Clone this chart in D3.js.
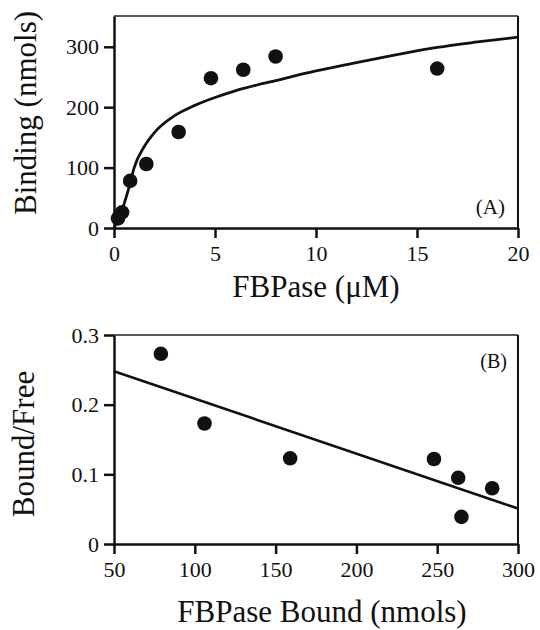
<!DOCTYPE html>
<html>
<head>
<meta charset="utf-8">
<script src="https://cdn.jsdelivr.net/npm/d3@7"></script>
<style>
  body { margin: 0; background: #fff; }
  text { font-family: "Liberation Serif", "Times New Roman", serif; fill: #111; }
</style>
</head>
<body>
<div id="chart"></div>
<script>
// panel A: binding vs FBPase concentration
var concA = [0.2, 0.4, 0.8, 1.6, 3.2, 4.8, 6.4, 8, 16];
var bindA = [16, 26, 78, 106, 159, 248, 262, 284, 264];
// fitted curve
var curveX = [0, 0.25, 0.5, 0.75, 1, 1.5, 2, 3, 4, 5, 6, 7, 8, 10, 12, 14, 16, 18, 20];
var curveY = [0, 18, 40, 68, 100, 135, 158, 186, 203, 216, 227, 236, 244, 260, 274, 287, 299, 308, 316];
var ticksAx = [0, 5, 10, 15, 20];
var ticksAy = [0, 100, 200, 300];

// panel B: Scatchard plot
var boundB = [79, 106, 159, 248, 263, 265, 284];
var ratioB = [0.273, 0.173, 0.123, 0.122, 0.095, 0.039, 0.080];
var fitX = [50, 300];
var fitY = [0.248, 0.051];
var ticksBx = [50, 100, 150, 200, 250, 300];
var ticksBy = [0, 0.1, 0.2, 0.3];

var width = 540, height = 630;

var svg = d3.select("#chart").append("svg")
  .attr("width", width)
  .attr("height", height)
  .style("background", "#fff");

function panel(opts) {
  var x = d3.scaleLinear().domain(opts.xDomain).range([114, 518]);
  var y = d3.scaleLinear().domain(opts.yDomain).range([opts.bottom, opts.top]);

  var g = svg.append("g");

  // frame: left/bottom heavier than top/right
  g.append("line").attr("x1", 114).attr("x2", 518).attr("y1", opts.top).attr("y2", opts.top)
    .attr("stroke", "#222").attr("stroke-width", 1.5);
  g.append("line").attr("x1", 518).attr("x2", 518).attr("y1", opts.top).attr("y2", opts.bottom)
    .attr("stroke", "#111").attr("stroke-width", 2);

  var xAxis = g.append("g")
    .attr("transform", "translate(0," + opts.bottom + ")")
    .call(d3.axisBottom(x).tickValues(opts.xTicks).tickSize(10).tickPadding(7).tickSizeOuter(0)
      .tickFormat(d3.format("d")));
  var yAxis = g.append("g")
    .attr("transform", "translate(114,0)")
    .call(d3.axisLeft(y).tickValues(opts.yTicks).tickSize(10).tickPadding(5).tickSizeOuter(0)
      .tickFormat(opts.yFormat));

  [xAxis, yAxis].forEach(function(a) {
    a.select(".domain").attr("stroke", "#111").attr("stroke-width", 2.5);
    a.selectAll(".tick line").attr("stroke", "#111").attr("stroke-width", 2.5);
    a.selectAll(".tick text")
      .attr("fill", "#111")
      .style("font-family", '"Liberation Serif", serif')
      .style("font-size", "22px");
  });

  return { g: g, x: x, y: y };
}

// ---- panel A
var A = panel({
  xDomain: [0, 20], yDomain: [0, 351], top: 16, bottom: 228,
  xTicks: ticksAx, yTicks: ticksAy, yFormat: d3.format("d")
});

var curvePts = curveX.map(function(d, i) { return [d, curveY[i]]; });
A.g.append("path")
  .datum(curvePts)
  .attr("fill", "none")
  .attr("stroke", "#111")
  .attr("stroke-width", 2.8)
  .attr("d", d3.line()
    .curve(d3.curveMonotoneX)
    .x(function(d) { return A.x(d[0]); })
    .y(function(d) { return A.y(d[1]); }));

A.g.selectAll(".dotA")
  .data(concA)
  .enter()
  .append("circle")
  .attr("class", "dotA")
  .attr("cx", function(d) { return A.x(d); })
  .attr("cy", function(d, i) { return A.y(bindA[i]); })
  .attr("r", 7.3)
  .attr("fill", "#111");

A.g.append("text")
  .attr("x", 505).attr("y", 214)
  .attr("text-anchor", "end")
  .style("font-size", "21px")
  .text("(A)");

svg.append("text")
  .attr("transform", "translate(36,113) rotate(-90)")
  .attr("text-anchor", "middle")
  .style("font-size", "31px")
  .text("Binding (nmols)");

svg.append("text")
  .attr("x", 316).attr("y", 297)
  .attr("text-anchor", "middle")
  .style("font-size", "31px")
  .text("FBPase (\u03BCM)");

// ---- panel B
var B = panel({
  xDomain: [50, 300], yDomain: [0, 0.3], top: 335, bottom: 544,
  xTicks: ticksBx, yTicks: ticksBy,
  yFormat: function(d) { return d === 0 ? "0" : d3.format(".1f")(d); }
});

B.g.append("path")
  .datum(fitX.map(function(d, i) { return [d, fitY[i]]; }))
  .attr("fill", "none")
  .attr("stroke", "#111")
  .attr("stroke-width", 2.6)
  .attr("d", d3.line()
    .x(function(d) { return B.x(d[0]); })
    .y(function(d) { return B.y(d[1]); }));

B.g.selectAll(".dotB")
  .data(boundB)
  .enter()
  .append("circle")
  .attr("class", "dotB")
  .attr("cx", function(d) { return B.x(d); })
  .attr("cy", function(d, i) { return B.y(ratioB[i]); })
  .attr("r", 7.3)
  .attr("fill", "#111");

B.g.append("text")
  .attr("x", 507).attr("y", 368)
  .attr("text-anchor", "end")
  .style("font-size", "20px")
  .text("(B)");

svg.append("text")
  .attr("transform", "translate(34,444) rotate(-90)")
  .attr("text-anchor", "middle")
  .style("font-size", "31px")
  .text("Bound/Free");

svg.append("text")
  .attr("x", 322).attr("y", 622)
  .attr("text-anchor", "middle")
  .style("font-size", "31px")
  .text("FBPase Bound (nmols)");
</script>
</body>
</html>
